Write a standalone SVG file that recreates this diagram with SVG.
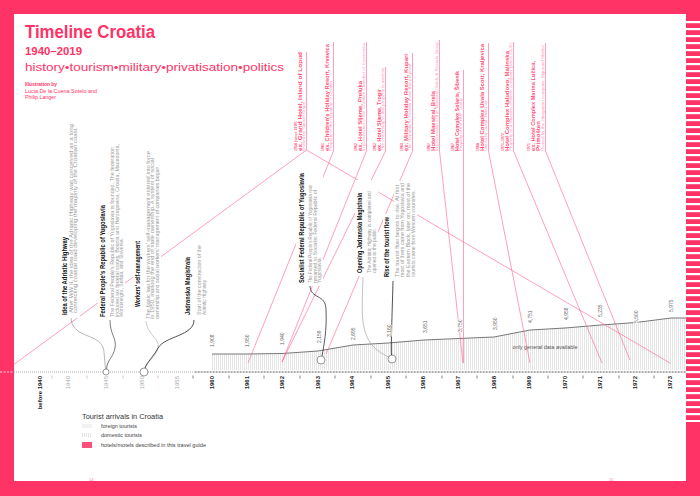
<svg xmlns="http://www.w3.org/2000/svg" width="700" height="496" viewBox="0 0 700 496">
<defs>
<style>
text{font-family:"Liberation Sans",Arial,sans-serif}
.pk{stroke:#ff5f8c;stroke-width:0.6;fill:none}
.ttl{fill:#ff3366;font-weight:bold}
.evt{font-weight:bold;font-size:6.5px;fill:#111}
.evb{font-size:4.6px;fill:#9a9a9a}
.bg{fill:#fff}
.hy{font-size:3.6px;font-weight:bold;fill:#ff5a85}
.hn{font-size:6px;font-weight:bold;fill:#ff4f7b}
.hd{font-size:3.6px;fill:#ff94b0}
.yrg{font-size:6px;fill:#aaa}
.yrd{font-size:6px;fill:#222;font-weight:bold}
.tk{stroke-width:0.6}
.val{font-size:5px;fill:#666;stroke:#fff;stroke-width:1.2;paint-order:stroke}
.lg{font-size:4.6px;fill:#444}
.cv{fill:none}
</style>
<pattern id="hatch" width="2" height="4" patternUnits="userSpaceOnUse"><rect x="0" y="0" width="0.6" height="4" fill="#d4d4d4"/></pattern>
<pattern id="stripes" width="14" height="7" patternUnits="userSpaceOnUse"><rect x="0" y="0" width="14" height="2.2" fill="#fff"/></pattern>
</defs>

<!-- frame -->
<rect x="0" y="0" width="700" height="496" fill="#ff3366"/>
<rect x="14" y="14" width="672" height="467" fill="#fff"/>
<rect x="686" y="20" width="14" height="402" fill="url(#stripes)"/>
<text x="89" y="480.5" font-size="4" fill="#ff7a9c">14</text>
<text x="609" y="480.5" font-size="4" fill="#ff7a9c">15</text>

<!-- title -->
<g id="title">
<text class="ttl" x="25" y="38" font-size="18" textLength="130" lengthAdjust="spacingAndGlyphs">Timeline Croatia</text>
<text class="ttl" x="25" y="55" font-size="10" textLength="57" lengthAdjust="spacingAndGlyphs">1940–2019</text>
<text x="25" y="71" font-size="11" fill="#ff3366" textLength="259" lengthAdjust="spacingAndGlyphs">history•tourism•military•privatisation•politics</text>
<text x="25" y="86" font-size="5" font-weight="bold" fill="#ff3366" textLength="32" lengthAdjust="spacingAndGlyphs">Illustration by</text>
<text x="25" y="92.5" font-size="5" fill="#ff3366" textLength="72" lengthAdjust="spacingAndGlyphs">Lucia De la Cuena Sotelo and</text>
<text x="25" y="99" font-size="5" fill="#ff3366" textLength="31" lengthAdjust="spacingAndGlyphs">Philip Langer</text>
</g>

<!-- chart -->
<g id="chart">
<polygon points="212,354 247,354 282,353.5 318,351 353,345 388,343 424,340 459,338.5 494,337 530,330 565,328 601,325 636,322.5 671,318 686,318 686,370 212,370" fill="url(#hatch)"/>
<polyline points="212,354 247,354 282,353.5 318,351 353,345 388,343 424,340 459,338.5 494,337 530,330 565,328 601,325 636,322.5 671,318 686,318" fill="none" stroke="#555" stroke-width="0.8"/>
<text x="545" y="349" font-size="5" fill="#555" text-anchor="middle" textLength="65" lengthAdjust="spacingAndGlyphs">only general data available</text>
</g>

<!-- axis -->
<g id="axis">
<line x1="0" y1="372" x2="14" y2="372" stroke="#fff" stroke-width="0.8" stroke-dasharray="2 1.5"/>
<line x1="14" y1="372" x2="195" y2="372" stroke="#999" stroke-width="0.9" stroke-dasharray="0.9 1.1"/>
<line x1="195" y1="372" x2="686" y2="372" stroke="#333" stroke-width="1.1" stroke-dasharray="0.8 0.7"/>
<g class="tk" stroke="#aaa">
<line x1="52" y1="375.5" x2="52" y2="378.5"/><line x1="87" y1="375.5" x2="87" y2="378.5"/><line x1="123" y1="375.5" x2="123" y2="378.5"/><line x1="158" y1="375.5" x2="158" y2="378.5"/>
</g>
<g class="tk" stroke="#333">
<line x1="193" y1="375.5" x2="193" y2="378.5"/><line x1="229" y1="375.5" x2="229" y2="378.5"/><line x1="264" y1="375.5" x2="264" y2="378.5"/><line x1="300" y1="375.5" x2="300" y2="378.5"/><line x1="335" y1="375.5" x2="335" y2="378.5"/><line x1="371" y1="375.5" x2="371" y2="378.5"/><line x1="406" y1="375.5" x2="406" y2="378.5"/><line x1="442" y1="375.5" x2="442" y2="378.5"/><line x1="477" y1="375.5" x2="477" y2="378.5"/><line x1="513" y1="375.5" x2="513" y2="378.5"/><line x1="548" y1="375.5" x2="548" y2="378.5"/><line x1="583" y1="375.5" x2="583" y2="378.5"/><line x1="619" y1="375.5" x2="619" y2="378.5"/><line x1="654" y1="375.5" x2="654" y2="378.5"/>
</g>
<g text-anchor="end">
<text class="yrd" transform="translate(42,376) rotate(-90)">before 1940</text>
<text class="yrg" transform="translate(70,376) rotate(-90)">1940</text>
<text class="yrg" transform="translate(108,376) rotate(-90)">1945</text>
<text class="yrg" transform="translate(144,376) rotate(-90)">1950</text>
<text class="yrg" transform="translate(179,376) rotate(-90)">1955</text>
<text class="yrd" transform="translate(214,376) rotate(-90)">1960</text>
<text class="yrd" transform="translate(249,376) rotate(-90)">1961</text>
<text class="yrd" transform="translate(284,376) rotate(-90)">1962</text>
<text class="yrd" transform="translate(320,376) rotate(-90)">1963</text>
<text class="yrd" transform="translate(354,376) rotate(-90)">1964</text>
<text class="yrd" transform="translate(390,376) rotate(-90)">1965</text>
<text class="yrd" transform="translate(425,376) rotate(-90)">1966</text>
<text class="yrd" transform="translate(460,376) rotate(-90)">1967</text>
<text class="yrd" transform="translate(496,376) rotate(-90)">1968</text>
<text class="yrd" transform="translate(531,376) rotate(-90)">1969</text>
<text class="yrd" transform="translate(567,376) rotate(-90)">1970</text>
<text class="yrd" transform="translate(602,376) rotate(-90)">1971</text>
<text class="yrd" transform="translate(637,376) rotate(-90)">1972</text>
<text class="yrd" transform="translate(672,376) rotate(-90)">1973</text>
</g>
</g>

<!-- connectors -->
<g id="connectors">
<path class="pk" d="M306.5,52 V150 L14,364.4"/>
<path class="pk" d="M306.5,150 L670,363"/>
<path class="pk" d="M333.5,42 V151 L248,363"/>
<path class="pk" d="M366.5,42 V151 L282,362"/>
<path class="pk" d="M385.5,67 V151 L282,362"/>
<path class="pk" d="M412.5,53 V151 L326,354"/>
<path class="pk" d="M439.5,40 V151 L463,363"/>
<path class="pk" d="M463.5,70 V363"/>
<path class="pk" d="M488.5,43 V151 L530,363"/>
<path class="pk" d="M513.5,42 V151 L602,363"/>
<path class="pk" d="M545.5,43 V151 L630,360"/>
<path class="cv" stroke="#888" stroke-width="0.6" d="M71,317 C71,340 103,332 104,352 L105.5,369"/>
<path class="cv" stroke="#444" stroke-width="0.7" d="M110,320 C110,335 117,338 115,348 C113,358 107,360 106.5,369"/>
<path class="cv" stroke="#aaa" stroke-width="0.6" d="M146,321 C147,335 160,338 158,348 C156,357 147,362 145,368"/>
<path class="cv" stroke="#222" stroke-width="0.8" d="M194,320 C194,336 165,336 158,348 C154,356 147,362 145,368"/>
<path class="cv" stroke="#333" stroke-width="0.8" d="M310,285 C310,300 326,293 326,310 C327,330 324,345 322,356"/>
<path class="cv" stroke="#999" stroke-width="0.6" d="M363,277 C362,310 360,330 372,345 C378,352 385,355 388.5,357"/>
<path class="cv" stroke="#222" stroke-width="0.8" d="M393,281 C392,320 391,340 391.5,355"/>
</g>

<!-- value labels -->
<g id="values">
<text class="val" transform="translate(214,347) rotate(-90)">1,908</text>
<text class="val" transform="translate(248.5,347) rotate(-90)">1,950</text>
<text class="val" transform="translate(283.5,345) rotate(-90)">1,940</text>
<text class="val" transform="translate(320.5,343) rotate(-90)">2,159</text>
<text class="val" transform="translate(354.5,340) rotate(-90)">2,695</text>
<text class="val" transform="translate(390.5,337) rotate(-90)">3,160</text>
<text class="val" transform="translate(426.5,333) rotate(-90)">3,651</text>
<text class="val" transform="translate(461.5,332) rotate(-90)">3,750</text>
<text class="val" transform="translate(496.5,330) rotate(-90)">3,950</text>
<text class="val" transform="translate(531.5,323) rotate(-90)">4,751</text>
<text class="val" transform="translate(567.5,320) rotate(-90)">4,958</text>
<text class="val" transform="translate(601.5,317) rotate(-90)">5,235</text>
<text class="val" transform="translate(637.5,323) rotate(-90)">5,500</text>
<text class="val" transform="translate(672.5,312) rotate(-90)">5,975</text>
</g>

<!-- circles -->
<g id="markers" fill="#fff" stroke="#555" stroke-width="0.6">
<circle cx="106" cy="372" r="3"/>
<circle cx="144" cy="372" r="4"/>
<circle cx="321" cy="360" r="4"/>
<circle cx="392" cy="359" r="4"/>
</g>

<!-- events -->
<g id="ev-idea">
<rect class="bg" x="60" y="122" width="20" height="196"/>
<g transform="translate(67,315) rotate(-90)">
<text class="evt" x="0" y="0" textLength="78" lengthAdjust="spacingAndGlyphs">Idea of the Adriatic Highway</text>
<text class="evb" x="2" y="5.5" textLength="189" lengthAdjust="spacingAndGlyphs">After WW II, the idea of the Adriatic Highway was conceived as a long</text>
<text class="evb" x="2" y="10" textLength="186" lengthAdjust="spacingAndGlyphs">connecting coastal road developing the majority of the Croatian coast.</text>
</g>
</g>
<g id="ev-fpry">
<rect class="bg" x="98" y="143" width="27" height="176"/>
<g transform="translate(105,317) rotate(-90)">
<text class="evt" x="0" y="0" textLength="112" lengthAdjust="spacingAndGlyphs">Federal People's Republic of Yugoslavia</text>
<text class="evb" x="0" y="9" textLength="170" lengthAdjust="spacingAndGlyphs">The Federal People's Republic of Yugoslavia is founded. The federation</text>
<text class="evb" x="0" y="13.5" textLength="173" lengthAdjust="spacingAndGlyphs">included six federal states: Bosnia and Herzegovina, Croatia, Macedonia,</text>
<text class="evb" x="0" y="18" textLength="79" lengthAdjust="spacingAndGlyphs">Montenegro, Serbia, and Slovenia.</text>
</g>
</g>
<g id="ev-workers">
<rect class="bg" x="133" y="146" width="28" height="175"/>
<text class="evt" transform="translate(140,307) rotate(-90)" textLength="66" lengthAdjust="spacingAndGlyphs">Workers' self-management</text>
<g transform="translate(149.5,319) rotate(-90)">
<text class="evb" x="0" y="0" textLength="168" lengthAdjust="spacingAndGlyphs">The basic law for the workers' self-management entered into force</text>
<text class="evb" x="0" y="4.6" textLength="161" lengthAdjust="spacingAndGlyphs">in 1950, marking the end of state ownership. A system of social</text>
<text class="evb" x="0" y="9.2" textLength="154" lengthAdjust="spacingAndGlyphs">ownership and social workers' management of companies began.</text>
</g>
</g>
<g id="ev-jadranska">
<rect class="bg" x="183" y="243" width="24" height="74"/>
<text class="evt" transform="translate(190,315) rotate(-90)" textLength="58" lengthAdjust="spacingAndGlyphs">Jadranska Magistrala</text>
<g transform="translate(201,315) rotate(-90)">
<text class="evb" x="0" y="0" textLength="70" lengthAdjust="spacingAndGlyphs">Start of the construction of the</text>
<text class="evb" x="0" y="5" textLength="35" lengthAdjust="spacingAndGlyphs">Adriatic Highway</text>
</g>
</g>
<g id="ev-sfry">
<rect class="bg" x="296" y="170" width="27" height="116"/>
<text class="evt" transform="translate(304,283) rotate(-90)" textLength="110" lengthAdjust="spacingAndGlyphs">Socialist Federal Republic of Yugoslavia</text>
<g transform="translate(312,283) rotate(-90)">
<text class="evb" x="0" y="0" textLength="98" lengthAdjust="spacingAndGlyphs">The Federal People's Republic of Yugoslavia was</text>
<text class="evb" x="0" y="4.6" textLength="93" lengthAdjust="spacingAndGlyphs">renamed to Socialist Federal Republic of</text>
<text class="evb" x="0" y="9.2" textLength="26" lengthAdjust="spacingAndGlyphs">Yugoslavia.</text>
</g>
</g>
<g id="ev-opening">
<rect class="bg" x="355" y="180" width="23" height="96"/>
<text class="evt" transform="translate(362,273) rotate(-90)" textLength="80" lengthAdjust="spacingAndGlyphs">Opening Jadranska Magistrala</text>
<g transform="translate(371,273) rotate(-90)">
<text class="evb" x="0" y="0" textLength="82" lengthAdjust="spacingAndGlyphs">The Adriatic Highway is completed and</text>
<text class="evb" x="0" y="5" textLength="45" lengthAdjust="spacingAndGlyphs">opened to the public.</text>
</g>
</g>
<g id="ev-rise">
<rect class="bg" x="383" y="214" width="9" height="65"/>
<rect class="bg" x="394" y="181" width="23" height="98"/>
<text class="evt" transform="translate(389,277) rotate(-90)" textLength="60" lengthAdjust="spacingAndGlyphs">Rise of the tourist flow</text>
<g transform="translate(398.5,277) rotate(-90)">
<text class="evb" x="0" y="0" textLength="92" lengthAdjust="spacingAndGlyphs">The tourist flow begins to rise. At first</text>
<text class="evb" x="0" y="5.6" textLength="94" lengthAdjust="spacingAndGlyphs">most of them came from Yugoslavia and</text>
<text class="evb" x="0" y="11.2" textLength="94" lengthAdjust="spacingAndGlyphs">the Eastern Block, later on, most of the</text>
<text class="evb" x="0" y="16.8" textLength="87" lengthAdjust="spacingAndGlyphs">tourists came from Western countries.</text>
</g>
</g>

<!-- hotels -->
<g id="h-lopud" transform="translate(306,151) rotate(-90)">
<text class="hy" x="0" y="-9.5">1958 (since 1970)</text>
<text class="hn" x="0" y="-4" textLength="99" lengthAdjust="spacingAndGlyphs">ex. Grand Hotel, Island of Lopud</text>
<text class="hd" x="0" y="-0.8" textLength="50" lengthAdjust="spacingAndGlyphs">Owned by 'Sunset Grupa'</text>
</g>
<g id="h-krvavica" transform="translate(333,151) rotate(-90)">
<text class="hy" x="0" y="-9.5">1961</text>
<text class="hn" x="0" y="-4" textLength="107" lengthAdjust="spacingAndGlyphs">ex. Children's Holiday Resort, Krvavica</text>
<text class="hd" x="0" y="-0.8" textLength="70" lengthAdjust="spacingAndGlyphs">Property of the Republic of Croatia</text>
</g>
<g id="h-preluka" transform="translate(366,151) rotate(-90)">
<text class="hy" x="0" y="-9.5">1962</text>
<text class="hn" x="0" y="-4" textLength="70" lengthAdjust="spacingAndGlyphs">ex. Hotel Sljeme, Preluka</text>
<text class="hd" x="0" y="-0.8" textLength="108" lengthAdjust="spacingAndGlyphs">In possession of the Croatian Chamber of Economics</text>
</g>
<g id="h-trogir" transform="translate(385,151) rotate(-90)">
<text class="hy" x="0" y="-9.5">1962</text>
<text class="hn" x="0" y="-4" textLength="62" lengthAdjust="spacingAndGlyphs">ex. Hotel Sljeme, Trogir</text>
<text class="hd" x="0" y="-0.8" textLength="83" lengthAdjust="spacingAndGlyphs">The ownership of this property is unclear</text>
</g>
<g id="h-kupari" transform="translate(412,151) rotate(-90)">
<text class="hy" x="0" y="-9.5">1963</text>
<text class="hn" x="0" y="-4" textLength="97" lengthAdjust="spacingAndGlyphs">ex. Military Holiday Resort, Kupari</text>
<text class="hd" x="0" y="-0.8" textLength="87" lengthAdjust="spacingAndGlyphs">The Republic of Croatia owns this property</text>
</g>
<g id="h-brela" transform="translate(439,151) rotate(-90)">
<text class="hy" x="0" y="-9.5">1967</text>
<text class="hn" x="0" y="-4" textLength="60" lengthAdjust="spacingAndGlyphs">Hotel Maestral, Brela</text>
<text class="hd" x="0" y="-0.8" textLength="110" lengthAdjust="spacingAndGlyphs">In possession of the 'Maestral Hotels &amp; Resorts Group'</text>
</g>
<g id="h-sibenik" transform="translate(463,151) rotate(-90)">
<text class="hy" x="0" y="-9.5">1967</text>
<text class="hn" x="0" y="-4" textLength="80" lengthAdjust="spacingAndGlyphs">Hotel Complex Solaris, Šibenik</text>
<text class="hd" x="0" y="-0.8" textLength="53" lengthAdjust="spacingAndGlyphs">Property of the 'HUP' Group</text>
</g>
<g id="h-kraljevica" transform="translate(488,151) rotate(-90)">
<text class="hy" x="0" y="-9.5">1968</text>
<text class="hn" x="0" y="-4" textLength="107" lengthAdjust="spacingAndGlyphs">Hotel Complex Uvala Scott, Kraljevica</text>
<text class="hd" x="0" y="-0.8" textLength="50" lengthAdjust="spacingAndGlyphs">Owned by Jadran Hoteli dd</text>
</g>
<g id="h-malinska" transform="translate(513,151) rotate(-90)">
<text class="hy" x="0" y="-9.5">1971–1972</text>
<text class="hn" x="0" y="-4" textLength="100" lengthAdjust="spacingAndGlyphs">Hotel Complex Haludovo, Malinska</text>
<text class="hd" x="0" y="-0.8" textLength="108" lengthAdjust="spacingAndGlyphs">Property of a Russian offshore company (since 2006)</text>
</g>
<g id="h-primosten" transform="translate(545,151) rotate(-90)">
<text class="hy" x="0" y="-15.5">1971</text>
<text class="hn" x="0" y="-10" textLength="90" lengthAdjust="spacingAndGlyphs">ex. Hotel Complex Marina Lučica,</text>
<text class="hn" x="0" y="-5" textLength="30" lengthAdjust="spacingAndGlyphs">Primošten</text>
<text class="hd" x="0" y="-0.8" textLength="107" lengthAdjust="spacingAndGlyphs">Owned by the Hungarian company 'Sigmund Marine'</text>
</g>

<!-- legend -->
<g id="legend">
<text x="82" y="419" font-size="6.5" fill="#333" textLength="81" lengthAdjust="spacingAndGlyphs">Tourist arrivals in Croatia</text>
<rect x="82" y="424" width="10" height="4" fill="#f2f2f2"/>
<text class="lg" x="101" y="428" textLength="36" lengthAdjust="spacingAndGlyphs">foreign tourists</text>
<rect x="82" y="433" width="10" height="4" fill="url(#hatch)"/>
<text class="lg" x="101" y="437" textLength="41" lengthAdjust="spacingAndGlyphs">domestic tourists</text>
<rect x="82" y="442" width="10" height="6" fill="#ff4f7b"/>
<text class="lg" x="101" y="447" textLength="105" lengthAdjust="spacingAndGlyphs">hotels/motels described in this travel guide</text>
</g>
</svg>
